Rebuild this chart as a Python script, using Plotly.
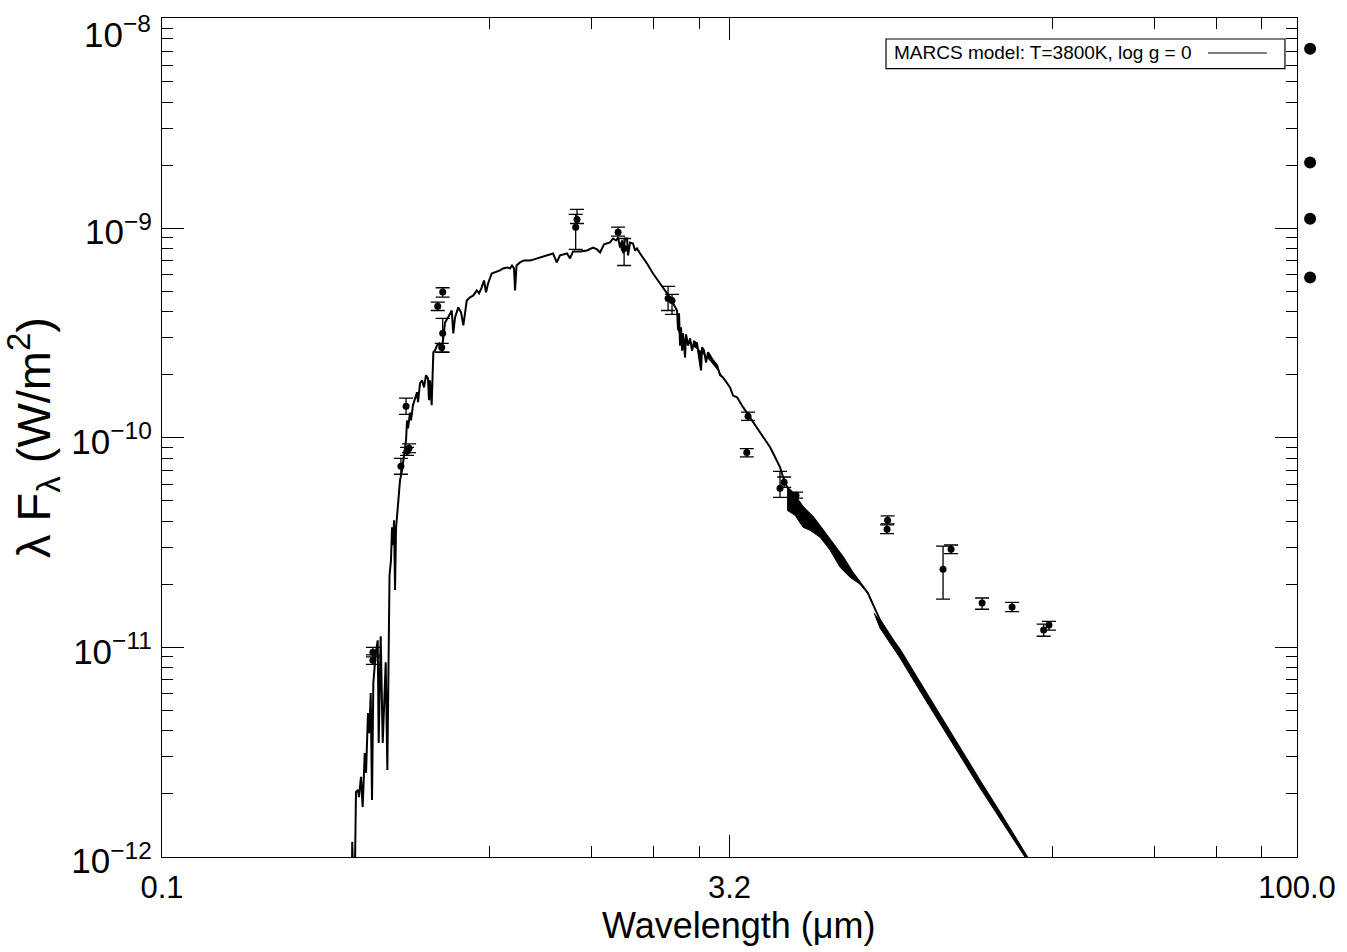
import plotly.graph_objects as go

# ---------------- data ----------------
# MARCS model spectrum (wavelength in micron, lambda*F_lambda in W/m^2)
model_wavelength = [
    0.3177, 0.3183, 0.3197, 0.3236, 0.3256, 0.3296, 0.3316, 0.3357, 0.3392, 0.3434,
    0.3462, 0.3503, 0.3532, 0.3562, 0.3590, 0.3619, 0.3672, 0.3717, 0.3739, 0.3785,
    0.3832, 0.3902, 0.3941, 0.3994, 0.4030, 0.4055, 0.4080, 0.4105, 0.4130, 0.4155,
    0.4205, 0.4257, 0.4309, 0.4362, 0.4416, 0.4443, 0.4470, 0.4525, 0.4552, 0.4607,
    0.4664, 0.4721, 0.4750, 0.4808, 0.4867, 0.4927, 0.4987, 0.5047, 0.5078, 0.5109,
    0.5162, 0.5214, 0.5268, 0.5333, 0.5399, 0.5464, 0.5531, 0.5598, 0.5702, 0.5772,
    0.5832, 0.5888, 0.5950, 0.6070, 0.6172, 0.6259, 0.6390, 0.6520, 0.6652, 0.6791,
    0.6887, 0.6999, 0.7098, 0.7186, 0.7274, 0.7438, 0.7589, 0.7823, 0.7967, 0.8166,
    0.8316, 0.8417, 0.8521, 0.8573, 0.8652, 0.8837, 0.9055, 0.9393, 0.9623, 0.9982,
    1.0416, 1.0804, 1.1051, 1.1274, 1.1765, 1.1981, 1.2202, 1.2733, 1.3288, 1.3783,
    1.4122, 1.4382, 1.4737, 1.5008, 1.5283, 1.5567, 1.5852, 1.6047, 1.6244, 1.6444,
    1.6572, 1.6746, 1.6951, 1.7054, 1.7263, 1.7579, 1.7796, 1.8013, 1.8344, 1.9143,
    1.9857, 2.0722, 2.1624, 2.2430, 2.2984, 2.3121, 2.3260, 2.3405, 2.3546, 2.3693,
    2.3835, 2.4128, 2.4273, 2.4570, 2.4871, 2.5177, 2.5486, 2.5954, 2.6273, 2.6595,
    2.6755, 2.7083, 2.7416, 2.7752, 2.8094, 2.8613, 2.9318, 2.9854, 3.0406, 3.1729,
    3.2315, 3.3112, 3.4346, 3.5843, 3.7403, 3.8797, 4.0488, 4.1738, 4.3025, 4.3825,
    4.4896, 4.6570, 4.9488, 5.2597, 5.5897, 5.9400, 6.3114, 6.7072, 7.1285, 7.3482,
    7.5297, 7.9068, 8.5578, 8.9303, 10.086, 11.393, 12.866, 14.533, 16.414, 18.535,
    19.70,
]
model_flux = [
    8.7e-13, 1.18e-12, 8.7e-13, 8.7e-13, 2.04e-12, 2.09e-12, 1.93e-12, 2.41e-12, 1.73e-12, 3.13e-12,
    2.52e-12, 4.86e-12, 3.90e-12, 6.05e-12, 1.87e-12, 6.75e-12, 9.39e-12, 1.08e-11, 3.50e-12, 1.13e-11,
    3.50e-12, 8.50e-12, 2.60e-12, 2.21e-11, 2.61e-11, 3.74e-11, 3.07e-11, 4.04e-11, 1.88e-11, 3.70e-11,
    4.77e-11, 6.27e-11, 7.00e-11, 8.53e-11, 9.73e-11, 1.21e-10, 1.11e-10, 1.32e-10, 1.21e-10, 1.43e-10,
    1.56e-10, 1.65e-10, 1.48e-10, 1.82e-10, 1.88e-10, 1.74e-10, 1.99e-10, 1.92e-10, 1.51e-10, 1.88e-10,
    1.43e-10, 2.56e-10, 2.61e-10, 2.76e-10, 2.82e-10, 2.67e-10, 2.92e-10, 3.55e-10, 3.75e-10, 3.92e-10,
    4.05e-10, 3.15e-10, 3.75e-10, 4.19e-10, 3.97e-10, 3.44e-10, 4.52e-10, 4.68e-10, 4.78e-10, 5.05e-10,
    4.89e-10, 5.22e-10, 5.63e-10, 4.94e-10, 5.45e-10, 6.08e-10, 6.15e-10, 6.29e-10, 6.43e-10, 6.50e-10,
    6.43e-10, 6.64e-10, 6.43e-10, 5.05e-10, 6.64e-10, 6.87e-10, 7.02e-10, 7.02e-10, 7.10e-10, 7.26e-10,
    7.42e-10, 7.58e-10, 6.87e-10, 7.42e-10, 7.58e-10, 7.18e-10, 7.75e-10, 7.75e-10, 7.83e-10, 8.09e-10,
    7.92e-10, 7.66e-10, 8.37e-10, 8.46e-10, 8.55e-10, 8.93e-10, 8.74e-10, 9.03e-10, 8.09e-10, 8.74e-10,
    7.58e-10, 8.93e-10, 8.93e-10, 7.42e-10, 8.55e-10, 8.46e-10, 7.83e-10, 8.01e-10, 7.58e-10, 6.79e-10,
    6.08e-10, 5.45e-10, 4.89e-10, 4.38e-10, 4.05e-10, 3.26e-10, 3.92e-10, 2.76e-10, 3.36e-10, 2.61e-10,
    3.15e-10, 2.42e-10, 3.11e-10, 2.76e-10, 2.98e-10, 2.61e-10, 2.88e-10, 2.82e-10, 2.47e-10, 2.10e-10,
    2.70e-10, 2.61e-10, 2.29e-10, 2.56e-10, 2.47e-10, 2.34e-10, 2.22e-10, 1.99e-10, 1.94e-10, 1.74e-10,
    1.59e-10, 1.56e-10, 1.40e-10, 1.25e-10, 1.12e-10, 1.005e-10, 9.01e-11, 8.07e-11, 7.23e-11, 6.48e-11,
    5.81e-11, 5.44e-11, 4.66e-11, 4.18e-11, 3.62e-11, 3.14e-11, 2.69e-11, 2.26e-11, 1.94e-11, 1.81e-11,
    1.64e-11, 1.35e-11, 1.08e-11, 9.70e-12, 6.76e-12, 4.70e-12, 3.31e-12, 2.30e-12, 1.62e-12, 1.14e-12,
    9.47e-13,
]

# lower envelope of the dense molecular absorption bands in the model
band_c_wavelength = [2.3121, 2.3405, 2.4871, 2.642, 2.8094, 2.949]
band_c_flux = [3.30e-10, 3.08e-10, 2.80e-10, 2.61e-10, 2.34e-10, 2.10e-10]
band_a_wavelength = [4.4896, 4.713, 4.9488, 5.163, 5.4889, 5.8329, 6.1985, 6.587, 6.9995, 7.3482]
band_a_flux = [4.51e-11, 4.27e-11, 3.74e-11, 3.62e-11, 3.35e-11, 2.91e-11, 2.41e-11, 2.16e-11, 2.00e-11, 1.81e-11]
band_b_wavelength = [7.622, 7.9068, 8.2513, 8.9303, 10.086, 11.393, 12.866, 14.533, 16.414, 18.535, 19.46]
band_b_flux = [1.46e-11, 1.235e-11, 1.106e-11, 8.89e-12, 6.18e-12, 4.31e-12, 3.03e-12, 2.13e-12, 1.52e-12, 1.08e-12, 9.47e-13]

# photometry with error bars
obs_wavelength = [0.361, 0.361, 0.428, 0.4416, 0.4444, 0.4498, 0.5356, 0.552, 0.552, 0.5487,
                  1.250, 1.240, 1.605, 1.665, 2.176, 2.229, 3.540, 3.513, 4.30, 4.41,
                  4.74, 8.28, 8.25, 11.6, 12.18, 14.71, 17.66, 21.4, 22.1]
obs_flux = [9.49e-12, 8.69e-12, 7.31e-11, 1.413e-10, 8.62e-11, 8.91e-11, 4.24e-10, 4.96e-10, 3.15e-10, 2.70e-10,
            1.10e-9, 1.01e-9, 9.57e-10, 8.0e-10, 4.62e-10, 4.52e-10, 1.266e-10, 8.50e-11, 5.74e-11, 6.13e-11,
            5.32e-11, 4.04e-11, 3.66e-11, 2.36e-11, 2.94e-11, 1.63e-11, 1.56e-11, 1.21e-11, 1.28e-11]
obs_flux_high = [1.00e-11, 9.2e-12, 7.98e-11, 1.545e-10, 9.0e-11, 9.35e-11, 4.44e-10, 5.20e-10, 3.71e-10, 2.82e-10,
                 1.229e-9, 1.163e-9, 1.012e-9, 8.93e-10, 5.28e-10, 4.83e-10, 1.327e-10, 8.88e-11, 6.92e-11, 6.5e-11,
                 5.5e-11, 4.24e-11, 3.84e-11, 3.04e-11, 3.08e-11, 1.72e-11, 1.64e-11, 1.29e-11, 1.33e-11]
obs_flux_low = [9.0e-12, 8.3e-12, 6.70e-11, 1.294e-10, 8.25e-11, 8.5e-11, 4.05e-10, 4.69e-10, 2.56e-10, 2.56e-10,
                1.053e-9, 7.93e-10, 9.16e-10, 6.64e-10, 4.05e-10, 3.88e-10, 1.21e-10, 8.10e-11, 5.20e-11, 5.8e-11,
                5.15e-11, 3.88e-11, 3.49e-11, 1.70e-11, 2.80e-11, 1.52e-11, 1.48e-11, 1.13e-11, 1.21e-11]

# points drawn just beyond the right edge of the frame
far_wavelength = [108.3, 108.3, 108.3, 108.3]
far_flux = [7.19e-9, 2.06e-9, 1.11e-9, 5.82e-10]

# axis ticks
x_tick_values = [0.1, 3.1623, 100.0]
x_tick_labels = ["0.1", "3.2", "100.0"]
x_minor_values = [0.732, 1.364, 1.996, 2.628, 22.53, 41.90, 61.26, 80.63]
y_tick_values = [1e-12, 1e-11, 1e-10, 1e-9, 1e-8]
y_tick_labels = ["10<sup>−12</sup>", "10<sup>−11</sup>", "10<sup>−10</sup>", "10<sup>−9</sup>", "10<sup>−8</sup>"]
y_minor_values = [m * d for d in [1e-12, 1e-11, 1e-10, 1e-9] for m in range(2, 10)]

legend_label = "MARCS model: T=3800K, log g = 0"
x_title = "Wavelength (μm)"
y_title = "λ F<sub>λ</sub> (W/m<sup>2</sup>)"

# ---------------- figure ----------------
FONT = "Liberation Sans, Arial, Helvetica, sans-serif"
W, H = 1347, 952
ML, MR, MT, MB = 162, 20, 18, 95
FRAME_W = 1135                      # width of the framed plot box in px
FRAME_H = H - MT - MB
plot_w = W - ML - MR
x_dom_end = FRAME_W / plot_w
X_LOG_RANGE = [-1, 2]
x2_log_range = [X_LOG_RANGE[0], X_LOG_RANGE[0] + (X_LOG_RANGE[1] - X_LOG_RANGE[0]) / x_dom_end]

fig = go.Figure()


def band_polygon(lo_wl, lo_fl):
    wl_min, wl_max = min(lo_wl), max(lo_wl)
    up = [(w, f) for w, f in zip(model_wavelength, model_flux) if wl_min <= w <= wl_max + 0.2]
    xs = [w for w, _ in up] + lo_wl[::-1]
    ys = [f for _, f in up] + lo_fl[::-1]
    return xs, ys


for lw, lf in [(band_c_wavelength, band_c_flux), (band_a_wavelength, band_a_flux),
               (band_b_wavelength, band_b_flux)]:
    bx, by = band_polygon(lw, lf)
    fig.add_trace(go.Scatter(x=bx, y=by, mode="lines", fill="toself", fillcolor="black",
                             line=dict(color="black", width=1), hoverinfo="skip", showlegend=False))

fig.add_trace(go.Scatter(x=model_wavelength, y=model_flux, mode="lines",
                         line=dict(color="black", width=2), showlegend=False))

err_plus = [h - f for h, f in zip(obs_flux_high, obs_flux)]
err_minus = [f - l for f, l in zip(obs_flux, obs_flux_low)]
fig.add_trace(go.Scatter(
    x=obs_wavelength, y=obs_flux, mode="markers",
    marker=dict(color="black", size=7),
    error_y=dict(type="data", symmetric=False, array=err_plus, arrayminus=err_minus,
                 color="black", thickness=1.3, width=7),
    showlegend=False))

# the four points beyond 100 micron, on an invisible axis with the same scale
fig.add_trace(go.Scatter(x=far_wavelength, y=far_flux, mode="markers", xaxis="x2", yaxis="y",
                         marker=dict(color="black", size=12), showlegend=False))

# legend box (text followed by the line sample, as in the original)
fig.add_shape(type="rect", xref="x domain", yref="y domain", x0=0.6379, x1=0.9894, y0=0.9396, y1=0.975,
              line=dict(color="black", width=1.2), fillcolor="white", layer="above")
fig.add_shape(type="line", xref="x domain", yref="y domain", x0=0.9216, x1=0.9736, y0=0.9583, y1=0.9583,
              line=dict(color="black", width=1.2), layer="above")
fig.add_annotation(xref="x domain", yref="y domain", x=0.6432, y=0.9583, xanchor="left", yanchor="middle",
                   text=legend_label, showarrow=False, font=dict(family=FONT, size=19, color="black"))

# x-axis title
fig.add_annotation(xref="x domain", yref="y domain", x=0.5075, y=-0.0815, xanchor="center", yanchor="middle",
                   text=x_title, showarrow=False, font=dict(family=FONT, size=36, color="black"))

# top tick label is nudged down inside the page (as in the original)
top_label_index = len(y_tick_labels) - 1
fig.add_annotation(xref="x domain", yref="y domain", x=-9 / FRAME_W, y=1 - 14 / FRAME_H,
                   xanchor="right", yanchor="middle", text=y_tick_labels[top_label_index],
                   showarrow=False, font=dict(family=FONT, size=35, color="black"))
y_tick_text_shown = [t if i != top_label_index else "" for i, t in enumerate(y_tick_labels)]

axis_common = dict(showline=True, linecolor="black", linewidth=1.3, mirror="ticks",
                   ticks="inside", tickcolor="black", tickwidth=1.2, ticklen=22,
                   showgrid=False, zeroline=False, ticklabeloverflow="allow")

fig.update_layout(
    xaxis=dict(type="log", range=X_LOG_RANGE, domain=[0, x_dom_end], anchor="y",
               tickmode="array", tickvals=x_tick_values, ticktext=x_tick_labels,
               tickfont=dict(family=FONT, size=31, color="black"),
               minor=dict(tickmode="array", tickvals=x_minor_values, ticks="inside", ticklen=11,
                          tickcolor="black", tickwidth=1.2, showgrid=False),
               ticklabelstandoff=3, automargin=False, **axis_common),
    xaxis2=dict(type="log", range=x2_log_range, domain=[0, 1], anchor="y", visible=False,
                showgrid=False, zeroline=False, automargin=False),
    yaxis=dict(type="log", range=[-12.0002, -7.997], anchor="x",
               tickmode="array", tickvals=y_tick_values, ticktext=y_tick_text_shown,
               tickfont=dict(family=FONT, size=35, color="black"),
               minor=dict(tickmode="array", tickvals=y_minor_values, ticks="inside", ticklen=11,
                          tickcolor="black", tickwidth=1.2, showgrid=False),
               title=dict(text=y_title, font=dict(family=FONT, size=47, color="black"), standoff=6),
               ticklabelstandoff=2, ticklabelshift=4, automargin=False, **axis_common),
    width=W, height=H, plot_bgcolor="rgba(0,0,0,0)", paper_bgcolor="white",
    margin=dict(l=ML, r=MR, t=MT, b=MB, autoexpand=False), showlegend=False,
    font=dict(family=FONT, color="black"),
)

fig.write_html("out.html")
